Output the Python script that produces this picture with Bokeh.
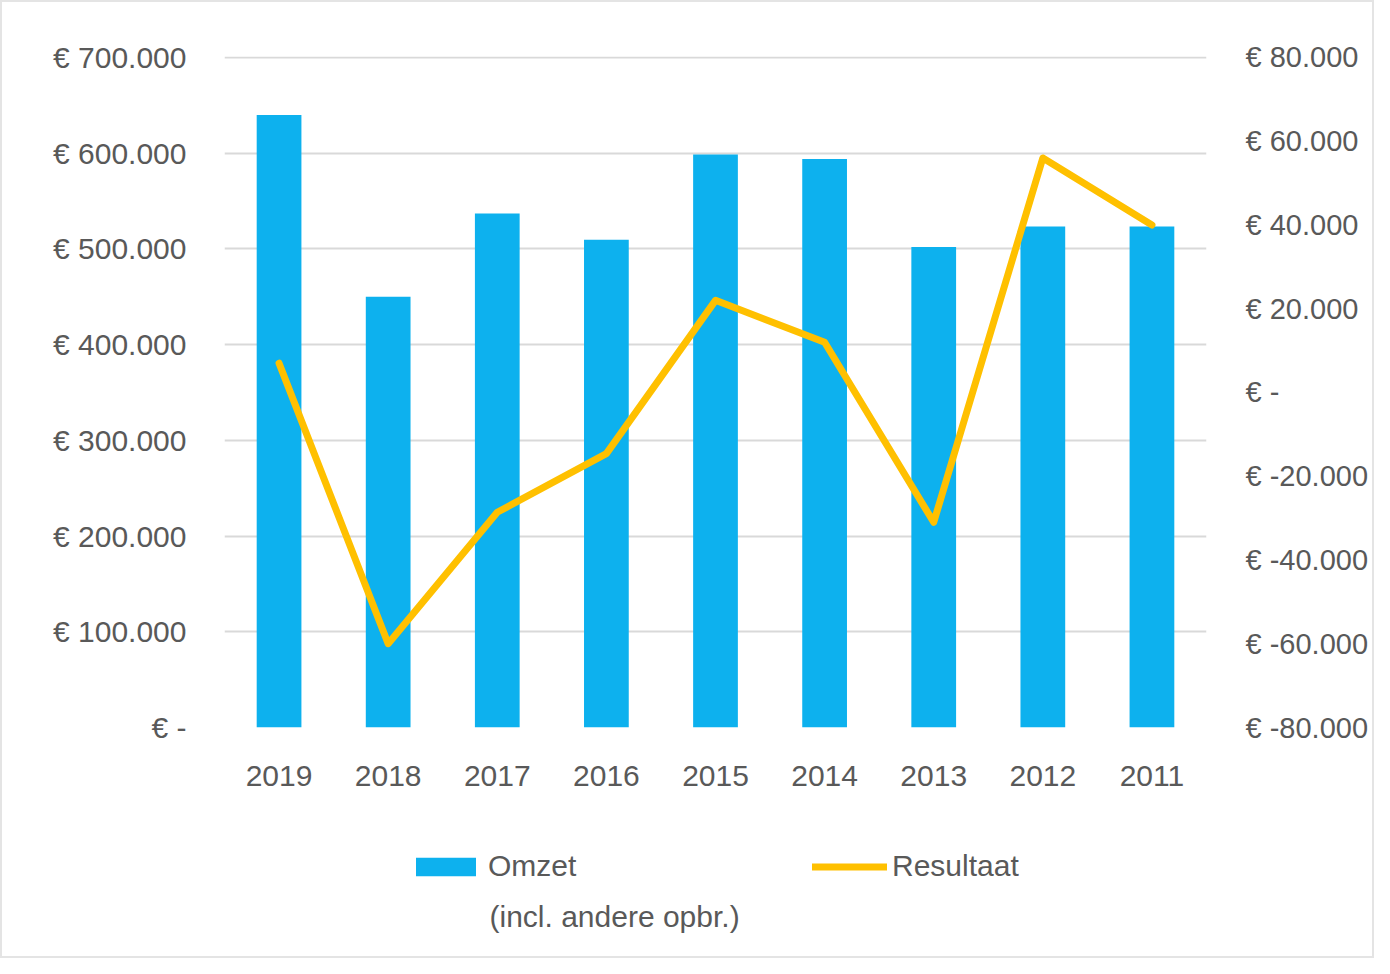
from bokeh.plotting import figure
from bokeh.layouts import column
from bokeh.models import (Range1d, LinearAxis, FixedTicker, Legend, LegendItem,
                          ColumnDataSource, Label)
from bokeh.embed import file_html
from bokeh.resources import INLINE

years = ["2019", "2018", "2017", "2016", "2015", "2014", "2013", "2012", "2011"]
omzet = [640000, 450000, 537000, 509500, 598500, 594000, 502000, 523500, 523500]
resultaat = [7000, -60000, -28600, -14600, 22000, 12000, -31000, 56000, 40000]

left_ticks = [0, 100000, 200000, 300000, 400000, 500000, 600000, 700000]
left_labels = ["€ -", "€ 100.000", "€ 200.000", "€ 300.000", "€ 400.000",
               "€ 500.000", "€ 600.000", "€ 700.000"]
right_ticks = [-80000, -60000, -40000, -20000, 0, 20000, 40000, 60000, 80000]
right_labels = ["€ -80.000", "€ -60.000", "€ -40.000", "€ -20.000", "€ -",
                "€ 20.000", "€ 40.000", "€ 60.000", "€ 80.000"]
legend_labels = ["Omzet", "Resultaat"]
legend_sub = "(incl. andere opbr.)"

FONT = "Liberation Sans"
TXT = "#595959"
BLUE = "#0DB1EE"
GOLD = "#FFC000"

src = ColumnDataSource(dict(year=years, omzet=omzet, res=resultaat))

p = figure(width=1370, height=808, x_range=years, y_range=Range1d(0, 701000),
           output_backend="svg", toolbar_location=None,
           min_border_left=222, min_border_right=166,
           min_border_top=54, min_border_bottom=83)
p.extra_y_ranges = {"res": Range1d(-80000, 80000 + 160000 * 1000 / 700000)}
p.outline_line_color = None
p.background_fill_color = "white"
p.border_fill_color = "white"

p.vbar(x="year", top="omzet", width=0.41, source=src,
       fill_color=BLUE, line_color=None)
p.line(x="year", y="res", source=src, y_range_name="res",
       line_color=GOLD, line_width=7, line_join="round", line_cap="round")

# left axis
ax = p.yaxis[0]
ax.ticker = FixedTicker(ticks=left_ticks)
ax.major_label_overrides = {t: l for t, l in zip(left_ticks, left_labels)}

# right axis
rax = LinearAxis(y_range_name="res", ticker=FixedTicker(ticks=right_ticks))
rax.major_label_overrides = {t: l for t, l in zip(right_ticks, right_labels)}
p.add_layout(rax, "right")

for a in (ax, rax):
    a.axis_line_color = None
    a.major_tick_line_color = None
    a.minor_tick_line_color = None
    a.major_label_text_font = FONT
    a.major_label_text_color = TXT
ax.major_label_text_font_size = "30px"
rax.major_label_text_font_size = "29px"
ax.major_label_standoff = 32
rax.major_label_standoff = 33

xa = p.xaxis[0]
xa.axis_line_color = None
xa.major_tick_line_color = None
xa.major_label_text_font = FONT
xa.major_label_text_font_size = "30px"
xa.major_label_text_color = TXT
xa.major_label_standoff = 32

p.xgrid.grid_line_color = None
p.ygrid.ticker = FixedTicker(ticks=left_ticks)
p.ygrid.grid_line_color = "#D9D9D9"
p.ygrid.grid_line_width = 2
p.x_range.range_padding = 0.0

# legend panel (same series, drawn outside its visible range; only the legend shows)
lg = figure(width=1370, height=146, x_range=years, y_range=Range1d(5e6, 6e6),
            output_backend="svg", toolbar_location=None,
            min_border=0)
lg.axis.visible = False
lg.grid.visible = False
lg.outline_line_color = None
lg.background_fill_color = "white"
lg.border_fill_color = "white"
r_bar = lg.vbar(x="year", top="omzet", width=0.41, source=src,
                fill_color=BLUE, line_color=None)
r_line = lg.line(x="year", y="res", source=src, line_color=GOLD,
                 line_width=7, line_cap="round")

legend = Legend(items=[
    LegendItem(label=legend_labels[0], renderers=[r_bar]),
    LegendItem(label=legend_labels[1], renderers=[r_line]),
], orientation="horizontal", location=(184, 73))
legend.label_text_font = FONT
legend.label_text_font_size = "30px"
legend.label_text_color = TXT
legend.glyph_width = 75
legend.glyph_height = 23
legend.label_standoff = 5
legend.label_width = 324
legend.spacing = 0
legend.padding = 0
legend.margin = 0
legend.border_line_color = None
legend.background_fill_alpha = 0
lg.add_layout(legend, "center")

lg.add_layout(Label(x=265, y=40, x_units="screen", y_units="screen",
                    text=legend_sub, text_font=FONT, text_font_size="30px",
                    text_color=TXT, text_baseline="middle"))

layout = column(p, lg, spacing=0)
layout.styles = {"border": "2px solid #E4E4E4"}

open("out.html", "w").write(file_html(layout, INLINE))
